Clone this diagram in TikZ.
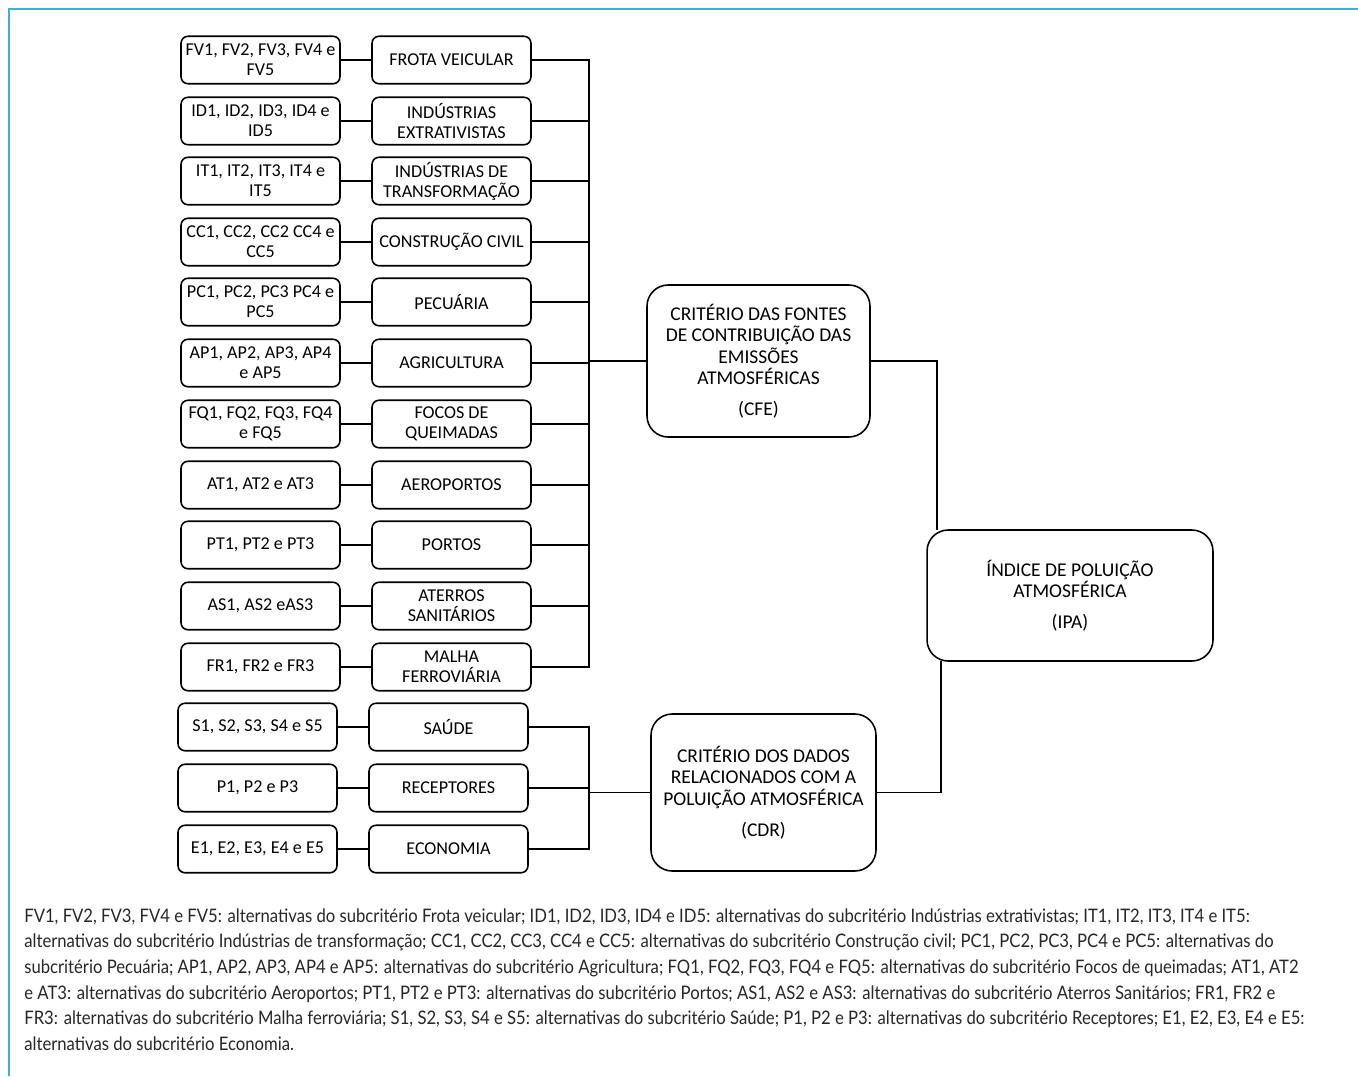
\documentclass[tikz,border=0pt]{standalone}
\usepackage{fontspec}
\setmainfont{Carlito}
\newfontfamily\notefont{Lato}[FakeStretch=0.895]
\usetikzlibrary{positioning,calc}
\definecolor{framec}{RGB}{62,174,221}

\begin{document}
\begin{tikzpicture}[x=0.02cm, y=-0.02cm]
	\useasboundingbox (0,0) rectangle (1358,1076);
	\draw [framec, line width=1.1pt] (9,1076) -- (9,9) -- (1358,9);
	\begin{scope}
		\tikzstyle{every node}=[align=center, inner sep=1pt, font=\fontsize{10.3}{11.4}\selectfont]
		\tikzstyle{box}=[draw, line width=0.9pt, rounded corners=4pt, minimum width=3.18cm, minimum height=0.95cm]
		\tikzstyle{crit}=[draw, line width=0.9pt, rounded corners=12pt, font=\fontsize{11.1}{12.2}\selectfont]
		\tikzstyle{every path}=[line width=0.8pt]

		\node [box] (fv) at (260.5, 60) {FV1, FV2, FV3, FV4 e\\FV5};
		\node [box] (id) at (260.5, 121) {ID1, ID2, ID3, ID4 e\\ID5};
		\node [box] (it) at (260.5, 181) {IT1, IT2, IT3, IT4 e\\IT5};
		\node [box] (cc) at (260.5, 242) {CC1, CC2, CC2 CC4 e\\CC5};
		\node [box] (pc) at (260.5, 302) {PC1, PC2, PC3 PC4 e\\PC5};
		\node [box] (ap) at (260.5, 363) {AP1, AP2, AP3, AP4\\e AP5};
		\node [box] (fq) at (260.5, 424) {FQ1, FQ2, FQ3, FQ4\\e FQ5};
		\node [box] (at) at (260.5, 485) {AT1, AT2 e AT3};
		\node [box] (pt) at (260.5, 545) {PT1, PT2 e PT3};
		\node [box] (as) at (260.5, 606) {AS1, AS2 eAS3};
		\node [box] (fr) at (260.5, 667) {FR1, FR2 e FR3};
		\node [box] (s) at (257.5, 727) {S1, S2, S3, S4 e S5};
		\node [box] (p) at (257.5, 788) {P1, P2 e P3};
		\node [box] (e) at (257.5, 849) {E1, E2, E3, E4 e E5};

		\node [box] (frota) at (451.5, 60) {FROTA VEICULAR};
		\node [box] (extr) at (451.5, 121) {INDÚSTRIAS\\EXTRATIVISTAS};
		\node [box] (transf) at (451.5, 181) {INDÚSTRIAS DE\\TRANSFORMAÇÃO};
		\node [box] (constr) at (451.5, 242) {CONSTRUÇÃO CIVIL};
		\node [box] (pec) at (451.5, 302) {PECUÁRIA};
		\node [box] (agr) at (451.5, 363) {AGRICULTURA};
		\node [box] (focos) at (451.5, 424) {FOCOS DE\\QUEIMADAS};
		\node [box] (aero) at (451.5, 485) {AEROPORTOS};
		\node [box] (portos) at (451.5, 545) {PORTOS};
		\node [box] (aterros) at (451.5, 606) {ATERROS\\SANITÁRIOS};
		\node [box] (malha) at (451.5, 667) {MALHA\\FERROVIÁRIA};
		\node [box] (saude) at (448.5, 727) {SAÚDE};
		\node [box] (recep) at (448.5, 788) {RECEPTORES};
		\node [box] (econ) at (448.5, 849) {ECONOMIA};

		\node [crit, minimum width=4.46cm, minimum height=3.04cm] (cfe) at (758.5, 361)
			{CRITÉRIO DAS FONTES\\DE CONTRIBUIÇÃO DAS\\EMISSÕES\\ATMOSFÉRICAS\\[5.4pt](CFE)};
		\node [crit, minimum width=4.5cm, minimum height=3.14cm] (cdr) at (763.5, 792.5)
			{CRITÉRIO DOS DADOS\\RELACIONADOS COM A\\POLUIÇÃO ATMOSFÉRICA\\[5.4pt](CDR)};
		\node [crit, minimum width=5.72cm, minimum height=2.62cm] (ipa) at (1070, 595.5)
			{ÍNDICE DE POLUIÇÃO\\ATMOSFÉRICA\\[5.4pt](IPA)};

		\coordinate (busa) at (589, 361);
		\coordinate (busb) at (589, 792.5);
		\coordinate (ipat) at (937, 530);
		\coordinate (ipab) at (941, 661);

		\draw [] (fv) to (frota);
		\draw [] (id) to (extr);
		\draw [] (it) to (transf);
		\draw [] (cc) to (constr);
		\draw [] (pc) to (pec);
		\draw [] (ap) to (agr);
		\draw [] (fq) to (focos);
		\draw [] (at) to (aero);
		\draw [] (pt) to (portos);
		\draw [] (as) to (aterros);
		\draw [] (fr) to (malha);
		\draw [] (s) to (saude);
		\draw [] (p) to (recep);
		\draw [] (e) to (econ);

		\draw [] (frota.east) -| (busa);
		\draw [] (extr.east) -| (busa);
		\draw [] (transf.east) -| (busa);
		\draw [] (constr.east) -| (busa);
		\draw [] (pec.east) -| (busa);
		\draw [] (agr.east) -| (busa);
		\draw [] (focos.east) -| (busa);
		\draw [] (aero.east) -| (busa);
		\draw [] (portos.east) -| (busa);
		\draw [] (aterros.east) -| (busa);
		\draw [] (malha.east) -| (busa);
		\draw [] (busa) to (cfe);

		\draw [] (saude.east) -| (busb);
		\draw [] (recep.east) -| (busb);
		\draw [] (econ.east) -| (busb);
		\draw [] (busb) to (cdr);

		\draw [] (cfe.east) -| (ipat);
		\draw [] (cdr.east) -| (ipab);
	\end{scope}

	\node [anchor=north west, align=left, inner sep=0pt, text=black!85,
		font=\notefont\fontsize{10.6}{14.6}\selectfont] (nota) at (24, 908)
		{FV1, FV2, FV3, FV4 e FV5: alternativas do subcritério Frota veicular; ID1, ID2, ID3, ID4 e ID5: alternativas do subcritério Indústrias extrativistas; IT1, IT2, IT3, IT4 e IT5:\\
		alternativas do subcritério Indústrias de transformação; CC1, CC2, CC3, CC4 e CC5: alternativas do subcritério Construção civil; PC1, PC2, PC3, PC4 e PC5: alternativas do\\
		subcritério Pecuária; AP1, AP2, AP3, AP4 e AP5: alternativas do subcritério Agricultura; FQ1, FQ2, FQ3, FQ4 e FQ5: alternativas do subcritério Focos de queimadas; AT1, AT2\\
		e AT3: alternativas do subcritério Aeroportos; PT1, PT2 e PT3: alternativas do subcritério Portos; AS1, AS2 e AS3: alternativas do subcritério Aterros Sanitários; FR1, FR2 e\\
		FR3: alternativas do subcritério Malha ferroviária; S1, S2, S3, S4 e S5: alternativas do subcritério Saúde; P1, P2 e P3: alternativas do subcritério Receptores; E1, E2, E3, E4 e E5:\\
		alternativas do subcritério Economia.};
\end{tikzpicture}
\end{document}
